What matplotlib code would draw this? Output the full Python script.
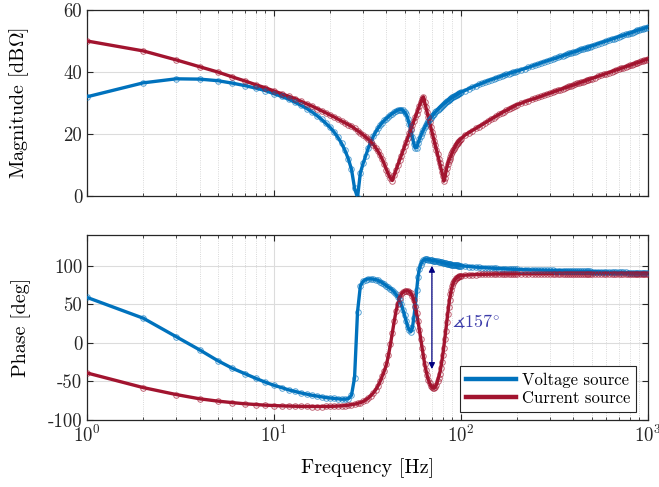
import numpy as np
import matplotlib
matplotlib.use('Agg')
import matplotlib.pyplot as plt
from matplotlib.lines import Line2D

# frequency points [Hz]
freq = np.concatenate([np.arange(1, 101), np.arange(105, 201, 5),
                       np.arange(210, 501, 10), np.arange(520, 1001, 20)])

# magnitude [dB Ohm], voltage source
mag_voltage = np.array([
    32.0, 36.5, 37.8, 37.7, 37.2, 36.4, 35.6, 34.8, 34.0, 33.0,
    32.1, 31.2, 30.2, 29.2, 28.2, 27.1, 25.9, 24.7, 23.4, 22.1,
    20.6, 18.9, 17.0, 14.7, 12.0, 8.6, 2.5, -0.5, 7.5, 10.5,
    13.0, 15.5, 17.5, 19.2, 20.6, 21.8, 22.8, 23.7, 24.4, 25.0,
    25.6, 26.1, 26.6, 27.0, 27.4, 27.7, 27.9, 27.9, 27.6, 27.1,
    26.3, 25.0, 23.3, 21.3, 19.0, 16.9, 15.5, 15.6, 17.0, 18.3,
    19.4, 20.4, 21.3, 22.1, 22.8, 23.5, 24.1, 24.7, 25.2, 25.7,
    26.2, 26.6, 27.0, 27.4, 27.8, 28.1, 28.5, 28.8, 29.1, 29.4,
    29.7, 30.0, 30.2, 30.5, 30.7, 30.9, 31.2, 31.4, 31.6, 31.8,
    32.0, 32.2, 32.4, 32.5, 32.7, 32.9, 33.0, 33.2, 33.3, 33.5,
    34.0, 34.6, 35.1, 35.6, 36.0, 36.4, 36.8, 37.2, 37.5, 37.8,
    38.1, 38.4, 38.7, 39.0, 39.2, 39.5, 39.7, 39.9, 40.1, 40.3,
    40.7, 41.1, 41.5, 41.9, 42.3, 42.6, 43.0, 43.3, 43.6, 43.9,
    44.2, 44.4, 44.7, 45.0, 45.2, 45.5, 45.7, 46.0, 46.2, 46.4,
    46.6, 46.8, 47.1, 47.3, 47.5, 47.6, 47.8, 48.0, 48.2, 48.4,
    48.7, 49.1, 49.4, 49.7, 50.0, 50.3, 50.6, 50.8, 51.1, 51.4,
    51.6, 51.8, 52.1, 52.3, 52.5, 52.7, 53.0, 53.2, 53.4, 53.6,
    53.8, 53.9, 54.1, 54.3, 54.5])

# magnitude [dB Ohm], current source
mag_current = np.array([
    50.0, 46.8, 43.9, 41.7, 40.0, 38.4, 37.1, 35.9, 34.9, 33.9,
    33.0, 32.2, 31.4, 30.5, 29.7, 29.0, 28.2, 27.5, 26.8, 26.1,
    25.5, 24.8, 24.2, 23.6, 23.0, 22.5, 21.8, 21.1, 20.4, 19.7,
    19.0, 18.3, 17.5, 16.6, 15.6, 14.5, 13.2, 11.8, 10.2, 8.5,
    7.0, 5.7, 5.0, 6.8, 8.4, 10.0, 11.5, 13.0, 14.5, 16.0,
    17.4, 18.8, 20.2, 21.5, 22.8, 24.1, 25.4, 26.6, 27.8, 29.1,
    30.2, 31.3, 32.0, 30.3, 28.7, 27.1, 25.5, 23.9, 22.3, 20.8,
    19.3, 17.8, 16.3, 14.9, 13.5, 12.1, 10.7, 9.3, 7.9, 6.6,
    4.8, 5.8, 7.5, 9.0, 10.2, 11.2, 12.0, 12.6, 13.4, 14.1,
    14.7, 15.3, 15.9, 16.4, 16.9, 17.2, 17.5, 17.8, 18.1, 18.4,
    19.6, 20.4, 21.1, 21.8, 22.4, 23.0, 23.6, 24.2, 24.8, 25.3,
    25.8, 26.3, 26.8, 27.2, 27.6, 28.0, 28.4, 28.8, 29.1, 29.5,
    29.9, 30.4, 30.8, 31.2, 31.5, 31.9, 32.2, 32.6, 32.9, 33.2,
    33.5, 33.8, 34.1, 34.3, 34.6, 34.9, 35.1, 35.4, 35.6, 35.8,
    36.0, 36.3, 36.5, 36.7, 36.9, 37.1, 37.3, 37.5, 37.7, 37.9,
    38.2, 38.6, 38.9, 39.2, 39.5, 39.8, 40.1, 40.4, 40.7, 40.9,
    41.2, 41.4, 41.7, 41.9, 42.1, 42.4, 42.6, 42.8, 43.0, 43.2,
    43.4, 43.6, 43.8, 44.0, 44.2])

# phase [deg], voltage source
phase_voltage = np.array([
    59, 32, 8, -9, -23, -33, -40, -46, -51, -55,
    -58, -61, -63, -65, -66.5, -68, -69, -70, -71, -71.5,
    -72, -72.5, -73, -73, -72.5, -68, -45, 40, 74, 80,
    82, 83, 83, 82.5, 82, 81, 79.5, 78, 76, 74,
    72, 70.5, 68.5, 66, 63, 59.5, 55.5, 50, 43, 36,
    28, 21, 16.5, 14.5, 19, 32, 48, 68, 86, 96,
    101.5, 105, 107.3, 108.2, 108.5, 108.3, 108.0, 107.7, 107.4, 107.1,
    106.8, 106.5, 106.2, 105.9, 105.6, 105.3, 105.0, 104.6, 104.3, 104.0,
    103.6, 103.3, 103.0, 102.7, 102.4, 102.2, 102.0, 101.8, 101.6, 101.4,
    101.2, 101.0, 100.9, 100.7, 100.6, 100.4, 100.3, 100.2, 100.0, 99.9,
    99.4, 99.0, 98.6, 98.3, 98.0, 97.7, 97.4, 97.2, 97.0, 96.8,
    96.6, 96.4, 96.2, 96.0, 95.9, 95.7, 95.6, 95.4, 95.3, 95.2,
    95.1, 94.9, 94.8, 94.7, 94.6, 94.4, 94.3, 94.2, 94.1, 94.0,
    93.9, 93.8, 93.7, 93.7, 93.6, 93.5, 93.4, 93.3, 93.3, 93.2,
    93.1, 93.0, 93.0, 92.9, 92.8, 92.8, 92.7, 92.7, 92.6, 92.5,
    92.4, 92.3, 92.2, 92.1, 92.0, 91.9, 91.8, 91.7, 91.6, 91.6,
    91.5, 91.4, 91.3, 91.2, 91.2, 91.1, 91.0, 91.0, 90.9, 90.8,
    90.8, 90.7, 90.6, 90.6, 90.5])

# phase [deg], current source
phase_current = np.array([
    -39, -58, -67, -72.5, -75.5, -77.5, -79, -80, -80.8, -81.3,
    -81.7, -82, -82.2, -82.4, -82.5, -82.6, -82.6, -82.6, -82.5, -82.4,
    -82.2, -82, -81.7, -81.3, -80.8, -80.2, -79.5, -78.6, -77.5, -76,
    -74, -71.5, -68.5, -65, -61, -56, -50, -43, -36, -28,
    -16, -2, 13, 28, 41, 51, 58, 63, 66, 67,
    67.5, 67.5, 66.5, 64.5, 61, 55, 47, 38.5, 28, 17,
    5, -6, -17, -27, -35, -42, -48, -52, -55.5, -57.5,
    -58.5, -58.5, -57, -54, -50, -45, -40, -33, -25, -16,
    -6, 5, 16, 27, 37, 47, 56, 63, 69, 74,
    77.5, 80, 82, 83.5, 84.5, 85.3, 86, 86.5, 87, 87.3,
    87.8, 88.1, 88.4, 88.6, 88.8, 88.9, 89.0, 89.1, 89.2, 89.2,
    89.3, 89.3, 89.3, 89.4, 89.4, 89.4, 89.4, 89.4, 89.5, 89.5,
    89.5, 89.5, 89.5, 89.5, 89.5, 89.5, 89.5, 89.5, 89.5, 89.5,
    89.5, 89.5, 89.5, 89.5, 89.5, 89.5, 89.5, 89.5, 89.5, 89.5,
    89.5, 89.5, 89.5, 89.5, 89.5, 89.5, 89.5, 89.5, 89.5, 89.5,
    89.5, 89.5, 89.5, 89.5, 89.5, 89.6, 89.6, 89.6, 89.6, 89.6,
    89.6, 89.6, 89.6, 89.6, 89.6, 89.6, 89.6, 89.6, 89.6, 89.6,
    89.6, 89.6, 89.6, 89.6, 89.6])

labels = ['Voltage source', 'Current source']
colors = ['#0072BD', '#A2142F']

plt.rcParams['font.family'] = 'serif'
plt.rcParams['font.serif'] = ['cmr10']
plt.rcParams['mathtext.fontset'] = 'cm'
plt.rcParams['axes.unicode_minus'] = False
plt.rcParams['axes.formatter.use_mathtext'] = False

fig = plt.figure(figsize=(6.59, 4.87), dpi=100)
axMag = fig.add_axes([0.132, 0.5975, 0.851, 0.382])
axPhase = fig.add_axes([0.132, 0.1376, 0.851, 0.380], sharex=axMag)

def draw(axis, values, color):
    axis.plot(freq, values, '-', color=color, lw=2.4, zorder=3)
    axis.plot(freq, values, 'o', color=color, mfc='none', ms=4.0, mew=0.7,
              alpha=0.65, zorder=4)

draw(axMag, mag_voltage, colors[0])
draw(axMag, mag_current, colors[1])
draw(axPhase, phase_voltage, colors[0])
draw(axPhase, phase_current, colors[1])

for axis in [axMag, axPhase]:
    axis.set_xscale('log')
    axis.set_xlim(1, 1000)
    axis.grid(True, which='major', color='#dcdcdc', lw=0.8, ls='-')
    axis.grid(True, which='minor', axis='x', color='#cccccc', lw=0.6, ls=':')
    axis.tick_params(direction='in', which='both', top=True, right=True,
                     labelsize=13.5, colors='#262626')
    axis.tick_params(which='major', length=4)
    axis.tick_params(which='minor', length=2.5)
    for spine in axis.spines.values():
        spine.set_color('#262626')
        spine.set_linewidth(0.9)
    axis.set_axisbelow(True)

axMag.set_ylim(0, 60)
axMag.set_yticks([0, 20, 40, 60])
axMag.tick_params(labelbottom=False)
axMag.set_ylabel(r'Magnitude [dB$\Omega$]', fontsize=14.5)
axMag.yaxis.set_label_coords(-0.1, 0.5)

axPhase.set_ylim(-100, 140)
axPhase.set_yticks([-100, -50, 0, 50, 100])
axPhase.set_ylabel('Phase [deg]', fontsize=14.5)
axPhase.yaxis.set_label_coords(-0.1, 0.5)
axPhase.set_xlabel('Frequency [Hz]', fontsize=14.5, labelpad=9)

axPhase.annotate('', xy=(70, -34), xytext=(70, 100),
                 arrowprops=dict(arrowstyle='<|-|>', color='#000080', lw=0.9,
                                 mutation_scale=9, shrinkA=0, shrinkB=0),
                 zorder=6)
axPhase.text(90, 28, r'$\measuredangle 157^{\circ}$', color='#3c3caa',
             fontsize=13, ha='left', va='center', zorder=6)

handles = [Line2D([], [], color=c, lw=3.2) for c in colors]
legend = axPhase.legend(handles, labels, loc='lower right',
                        bbox_to_anchor=(0.9786, 0.043), fontsize=12,
                        fancybox=False, framealpha=1, edgecolor='#262626',
                        handlelength=3.0, handletextpad=0.35, borderaxespad=0,
                        borderpad=0.35, labelspacing=0.2)
legend.get_frame().set_linewidth(0.8)

fig.savefig('out.png', dpi=100)
